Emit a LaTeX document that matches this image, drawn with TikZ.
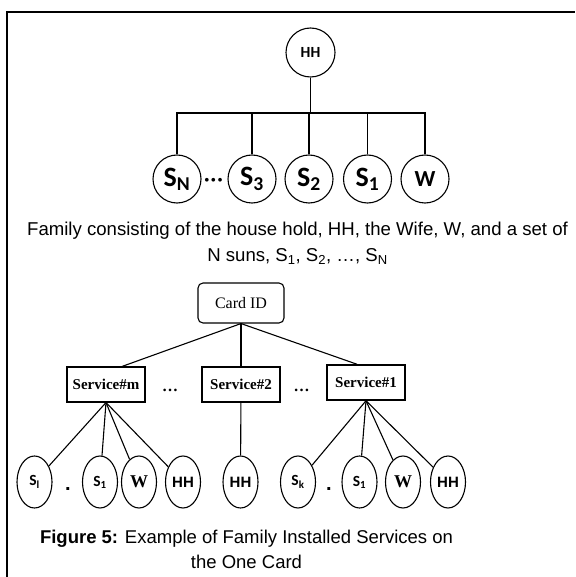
\documentclass[tikz,border=0pt]{standalone}
\usepackage{fontspec}
\setmainfont{Liberation Sans}
\newfontfamily\timesfont{Liberation Serif}
\newfontfamily\calfont{Carlito}
\usetikzlibrary{shapes.geometric}
\begin{document}
\begin{tikzpicture}[x=1pt,y=-1pt,line width=1.1pt,
  member/.style={circle,draw,minimum size=48pt,inner sep=0pt,font=\calfont\bfseries\fontsize{28}{28}\selectfont},
  cardbox/.style={draw,rounded corners=5pt,minimum width=86pt,minimum height=40pt,font=\timesfont\fontsize{16}{16}\selectfont},
  servbox/.style={draw,minimum width=78pt,minimum height=35pt,inner sep=1pt,font=\timesfont\bfseries\fontsize{15}{15}\selectfont},
  owner/.style={ellipse,draw,minimum width=35pt,minimum height=52pt,inner sep=0pt,font=\bfseries\fontsize{15}{15}\selectfont},
  caption/.style={align=center,font=\fontsize{18.6}{26}\selectfont}]
\useasboundingbox (0,0) rectangle (575,577);
\draw[line width=1.5pt] (7,577) -- (7,12) -- (575,12);
% family tree
\node[member,minimum size=49pt,font=\calfont\bfseries\fontsize{15.5}{15.5}\selectfont] (hh) at (310.5,52.5) {HH};
\coordinate (bus) at (310.5,113);
\node[member] (sn) at (177,179) {S\textsubscript{N}};
\node[member] (s3) at (252,179) {S\textsubscript{3}};
\node[member] (s2) at (309,179) {S\textsubscript{2}};
\node[member] (s1) at (367.5,179) {S\textsubscript{1}};
\node[member,font=\calfont\bfseries\fontsize{23}{23}\selectfont] (w) at (425,179) {W};
\node[font=\calfont\fontsize{26}{26}\selectfont,inner sep=0pt] (fdots) at (213.5,183) {···};
\draw (hh) -- (bus);
\foreach \k in {sn,s3,s2,s1,w} \draw (bus) -| (\k);
\node[caption] (cap1) at (297.5,243) {Family consisting of the house hold, HH, the Wife, W, and a set of\\N suns, S\textsubscript{1}, S\textsubscript{2}, \ldots, S\textsubscript{N}};
% card services
\node[cardbox] (card) at (241,303) {Card ID};
\node[servbox] (srvm) at (106,384.5) {Service\#m};
\node[servbox] (srv2) at (241,384.5) {Service\#2};
\node[servbox,line width=1.5pt] (srv1) at (366,382.5) {Service\#1};
\node[font=\timesfont\bfseries\fontsize{16}{16}\selectfont] (sdots1) at (170,390) {\ldots};
\node[font=\timesfont\bfseries\fontsize{16}{16}\selectfont] (sdots2) at (301.5,390) {\ldots};
\draw (card.south) -- ([xshift=16pt]srvm.north);
\draw (card.south) -- (srv2.north);
\draw (card.south) -- ([xshift=-9pt]srv1.north);
\node[owner,font=\calfont\bfseries\fontsize{15.5}{15.5}\selectfont] (ml) at (34.5,482) {S\textsubscript{l}};
\node[owner,font=\calfont\bfseries\fontsize{15.5}{15.5}\selectfont] (m1) at (100,482) {S\textsubscript{1}};
\node[owner,font=\timesfont\bfseries\fontsize{18}{18}\selectfont] (mw) at (139,482) {W};
\node[owner] (mh) at (183,482) {HH};
\node[owner] (th) at (240.5,482) {HH};
\node[owner,font=\calfont\bfseries\fontsize{15.5}{15.5}\selectfont] (ok) at (298,482) {S\textsubscript{k}};
\node[owner,font=\calfont\bfseries\fontsize{15.5}{15.5}\selectfont] (o1) at (359.5,482) {S\textsubscript{1}};
\node[owner,font=\timesfont\bfseries\fontsize{18}{18}\selectfont] (ow) at (403,482) {W};
\node[owner] (oh) at (448,482) {HH};
\node[font=\bfseries\fontsize{20}{20}\selectfont,inner sep=0pt] (mdot) at (68,489) {.};
\node[font=\bfseries\fontsize{20}{20}\selectfont,inner sep=0pt] (odot) at (329,489) {.};
\foreach \k in {ml,m1,mw,mh} \draw (srvm.south) -- (\k);
\draw (srv2) -- (th);
\foreach \k in {ok,o1,ow,oh} \draw (srv1.south) -- (\k);
\node[caption,font=\fontsize{18.5}{25}\selectfont] (cap2) at (246.5,549) {\textbf{Figure 5:} Example of Family Installed Services on\\the One Card};
\end{tikzpicture}
\end{document}
